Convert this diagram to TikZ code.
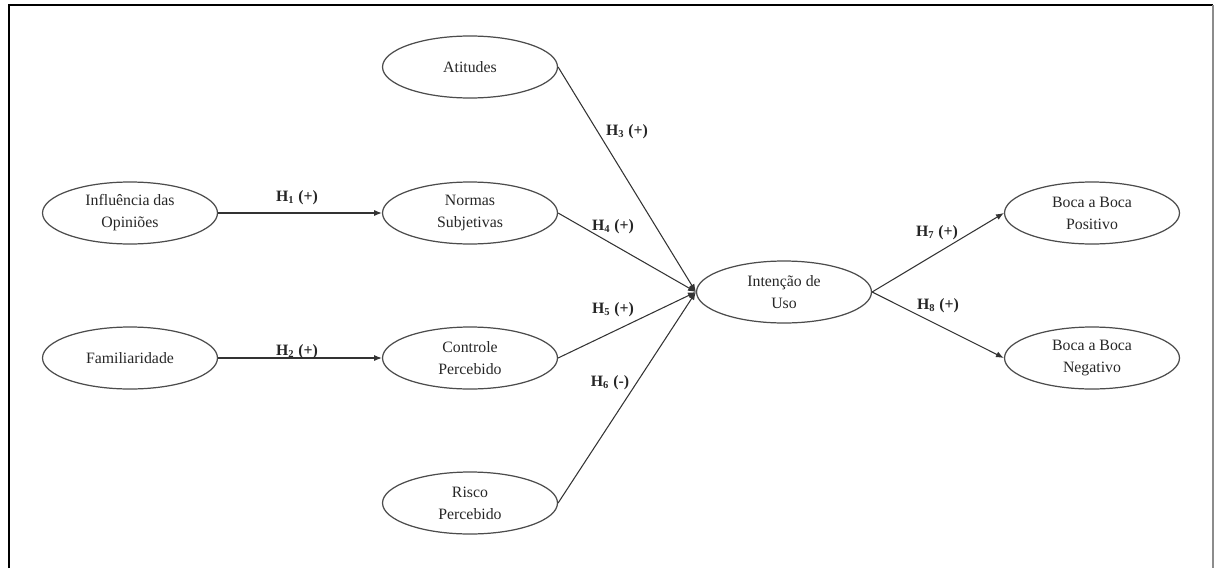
\documentclass[tikz,border=0pt]{standalone}
\usepackage{fontspec}
\setmainfont{Liberation Serif}
\usetikzlibrary{arrows.meta,shapes.geometric}

\begin{document}
\begin{tikzpicture}[x=0.02cm, y=-0.02cm,
    construto/.style={draw=black!70, line width=0.7pt, ellipse,
      minimum width=3.5cm, minimum height=1.24cm, inner sep=0pt,
      align=center, text=black!85, font=\fontsize{9}{12.5}\selectfont},
    hip/.style={font=\fontsize{9}{11}\selectfont\bfseries, text=black!85},
    seta/.style={draw=black!80, line width=0.6pt,
      -{Latex[length=4.5pt,width=3.5pt]}}]
    \useasboundingbox (0,0) rectangle (1216,568);

    % moldura
    \draw[line width=1.4pt] (9,568) -- (9,5) -- (1213,5);
    \draw[black!45, line width=0.6pt] (1213,5) -- (1213,568);

    % construtos
    \node[construto] (influencia) at (130,213) {Influência das\\Opiniões};
    \node[construto] (familiaridade) at (130,358) {Familiaridade};
    \node[construto] (atitudes) at (470,67) {Atitudes};
    \node[construto] (normas) at (470,213) {Normas\\Subjetivas};
    \node[construto] (controle) at (470,358) {Controle\\Percebido};
    \node[construto] (risco) at (470,503) {Risco\\Percebido};
    \node[construto] (intencao) at (784,292) {Intenção de\\Uso};
    \node[construto] (positivo) at (1092,213) {Boca a Boca\\Positivo};
    \node[construto] (negativo) at (1092,358) {Boca a Boca\\Negativo};

    % hipoteses
    \draw[seta] (influencia.east) -- (normas.west);
    \draw[seta] (familiaridade.east) -- (controle.west);
    \foreach \origem in {atitudes, normas, controle, risco} {
      \draw[seta] (\origem.east) -- (intencao.west) ;
    } ;
    \draw[seta] (intencao.east) -- (positivo.west);
    \draw[seta] (intencao.east) -- (negativo.west);

    \node[hip] (h1) at (297,198) {H\textsubscript{1} (+)};
    \node[hip] (h2) at (297,352) {H\textsubscript{2} (+)};
    \node[hip] (h3) at (627,132) {H\textsubscript{3} (+)};
    \node[hip] (h4) at (613,227) {H\textsubscript{4} (+)};
    \node[hip] (h5) at (613,310) {H\textsubscript{5} (+)};
    \node[hip] (h6) at (610,383) {H\textsubscript{6} (-)};
    \node[hip] (h7) at (937,233) {H\textsubscript{7} (+)};
    \node[hip] (h8) at (938,306) {H\textsubscript{8} (+)};
  \end{tikzpicture}
\end{document}
